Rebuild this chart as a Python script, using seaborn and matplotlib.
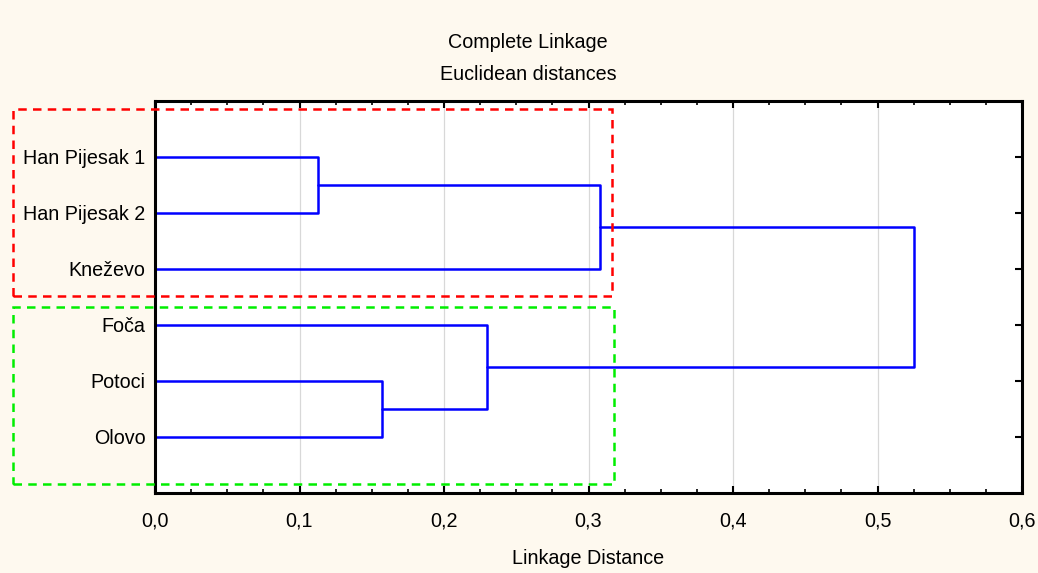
import matplotlib
matplotlib.use("Agg")
import matplotlib.pyplot as plt
from matplotlib.patches import Rectangle
from matplotlib.ticker import FuncFormatter, MultipleLocator
import pandas as pd
import seaborn as sns

# Leaves in dendrogram order (top to bottom)
leaves = ["Han Pijesak 1", "Han Pijesak 2", "Kneževo", "Foča", "Potoci", "Olovo"]
# Merge steps: (left member, right member, linkage distance, new cluster name)
merge_left = ["Han Pijesak 1", "Potoci", "C1", "Foča", "C3"]
merge_right = ["Han Pijesak 2", "Olovo", "Kneževo", "C2", "C4"]
merge_height = [0.113, 0.157, 0.308, 0.230, 0.525]
merge_name = ["C1", "C2", "C3", "C4", "C5"]

x_ticks = [0.0, 0.1, 0.2, 0.3, 0.4, 0.5, 0.6]

# Build the elbow segments of the dendrogram
node_y = {name: i + 1 for i, name in enumerate(leaves)}
node_x = {name: 0.0 for name in leaves}
rows = []
for k, (a, b, h, n) in enumerate(zip(merge_left, merge_right, merge_height, merge_name)):
    ya, yb = node_y[a], node_y[b]
    xa, xb = node_x[a], node_x[b]
    for x, y in [(xa, ya), (h, ya), (h, yb), (xb, yb)]:
        rows.append({"seg": k, "dist": x, "pos": y})
    node_y[n] = (ya + yb) / 2
    node_x[n] = h
seg_df = pd.DataFrame(rows)

sns.set_style("white")
plt.rcParams["font.family"] = ["Liberation Sans", "DejaVu Sans"]
plt.rcParams["text.color"] = "black"
plt.rcParams["axes.labelcolor"] = "black"
plt.rcParams["xtick.labelcolor"] = "black"
plt.rcParams["ytick.labelcolor"] = "black"

FS = 14.2
W, H = 1038, 573
bg = "#fef9ef"
fig = plt.figure(figsize=(W / 100, H / 100), dpi=100, facecolor=bg)
ax = fig.add_axes([155 / W, 1 - 493 / H, (1022 - 155) / W, (493 - 101) / H])
ax.set_facecolor("white")

for xv in x_ticks[1:-1]:
    ax.axvline(xv, color="#d8d8d8", lw=0.9, zorder=0)

sns.lineplot(data=seg_df, x="dist", y="pos", units="seg", estimator=None,
             sort=False, color="#0000ff", lw=1.8, ax=ax, legend=False)

ax.set_xlim(0, 0.6)
ax.set_ylim(7, 0)
ax.set_xticks(x_ticks)
ax.xaxis.set_minor_locator(MultipleLocator(0.025))
ax.xaxis.set_major_formatter(FuncFormatter(lambda v, p: f"{v:.1f}".replace(".", ",")))
ax.set_yticks(range(1, len(leaves) + 1))
ax.set_yticklabels(leaves)
ax.set_ylabel("")
ax.set_xlabel("Linkage Distance", fontsize=FS, va="center", color="black")
ax.xaxis.set_label_coords(0.5, -(558 - 493) / (493 - 101))

ax.tick_params(axis="x", which="major", direction="in", top=True, bottom=True,
               length=5, width=1.5, labelsize=FS, pad=13, color="black",
               labelcolor="black")
ax.tick_params(axis="x", which="minor", direction="in", top=True, bottom=True,
               length=3, width=1.2, color="black")
ax.tick_params(axis="y", which="major", direction="in", left=False, right=True,
               length=5, width=1.5, labelsize=FS, pad=7, color="black",
               labelcolor="black")
for sp in ax.spines.values():
    sp.set_visible(True)
    sp.set_color("black")
    sp.set_linewidth(2.2)

fig.text(528 / W, 1 - 43 / H, "Complete Linkage", ha="center", va="center",
         fontsize=FS, color="black")
fig.text(528 / W, 1 - 74 / H, "Euclidean distances", ha="center", va="center",
         fontsize=FS, color="black")

# Group outlines
fig.patches.append(Rectangle((13 / W, 1 - 296 / H), (612 - 13) / W, (296 - 109) / H,
                             transform=fig.transFigure, fill=False, ec="#ff0000",
                             lw=1.8, ls=(0, (3.4, 2.5)), zorder=10))
fig.patches.append(Rectangle((13 / W, 1 - 484 / H), (614 - 13) / W, (484 - 307) / H,
                             transform=fig.transFigure, fill=False, ec="#00ee00",
                             lw=1.8, ls=(0, (3.4, 2.5)), zorder=10))

fig.savefig("out.png", dpi=100, facecolor=bg)
